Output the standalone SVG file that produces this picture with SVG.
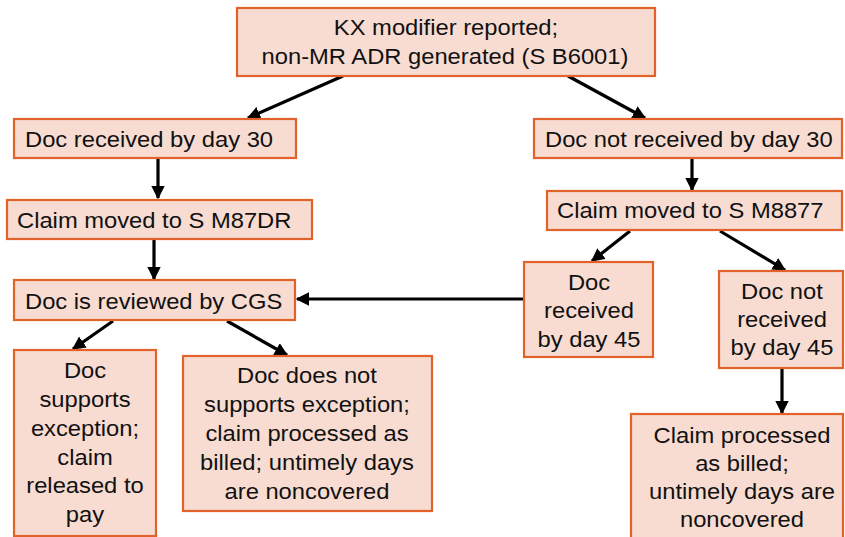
<svg xmlns="http://www.w3.org/2000/svg" width="845" height="537" viewBox="0 0 845 537">
<defs>
<style>
.box{fill:#F8DCD1;stroke:#E2622C;stroke-width:2.2}
.t{font-family:"Liberation Sans",Arial,sans-serif;font-size:22px;fill:#111;transform-box:fill-box;transform-origin:center;transform:scaleX(1.08)}
.l{transform-origin:left center}
.c{text-anchor:middle}
.e{stroke:#000;stroke-width:3.2;fill:none;marker-end:url(#ah)}
</style>
<marker id="ah" viewBox="0 0 10 10" refX="9" refY="5" markerWidth="4.2" markerHeight="4.2" orient="auto" markerUnits="strokeWidth">
<path d="M0,0 L10,5 L0,10 z" fill="#000"/>
</marker>
</defs>
<rect width="845" height="537" fill="#fff"/>
<g id="connectors">
<line class="e" x1="343" y1="76" x2="248" y2="118"/>
<line class="e" x1="568" y1="76" x2="645" y2="118"/>
<line class="e" x1="158" y1="158" x2="158" y2="198"/>
<line class="e" x1="154" y1="239" x2="154" y2="279"/>
<line class="e" x1="692" y1="158" x2="692" y2="190"/>
<line class="e" x1="630" y1="231" x2="592" y2="261"/>
<line class="e" x1="720" y1="231" x2="785" y2="270"/>
<line class="e" x1="524" y1="299" x2="297" y2="299"/>
<line class="e" x1="113" y1="321" x2="73" y2="349"/>
<line class="e" x1="227" y1="321" x2="287" y2="355"/>
<line class="e" x1="782" y1="368" x2="782" y2="413"/>
</g>
<g id="n_top">
<rect class="box" x="237" y="8" width="418" height="68"/>
<text class="t c" x="446" y="35">KX modifier reported;</text>
<text class="t c" x="445" y="64">non-MR ADR generated (S B6001)</text>
</g>
<g id="n_recv30">
<rect class="box" x="14" y="119" width="282" height="39"/>
<text class="t l" x="25" y="147">Doc received by day 30</text>
</g>
<g id="n_notrecv30">
<rect class="box" x="534" y="119" width="308" height="39"/>
<text class="t l" x="545" y="147">Doc not received by day 30</text>
</g>
<g id="n_m87dr">
<rect class="box" x="7" y="200" width="305" height="39"/>
<text class="t l" x="17" y="228">Claim moved to S M87DR</text>
</g>
<g id="n_m8877">
<rect class="box" x="547" y="191" width="295" height="39"/>
<text class="t l" x="557" y="218">Claim moved to S M8877</text>
</g>
<g id="n_reviewed">
<rect class="box" x="14" y="280" width="281" height="40"/>
<text class="t l" x="25" y="309">Doc is reviewed by CGS</text>
</g>
<g id="n_recv45">
<rect class="box" x="524" y="262" width="129" height="95"/>
<text class="t c" x="589" y="290">Doc</text>
<text class="t c" x="589" y="318">received</text>
<text class="t c" x="589" y="347">by day 45</text>
</g>
<g id="n_notrecv45">
<rect class="box" x="719" y="271" width="124" height="97"/>
<text class="t c" x="782" y="299">Doc not</text>
<text class="t c" x="782" y="327">received</text>
<text class="t c" x="782" y="355">by day 45</text>
</g>
<g id="n_supports">
<rect class="box" x="14" y="350" width="142" height="186"/>
<text class="t c" x="85" y="378">Doc</text>
<text class="t c" x="85" y="407">supports</text>
<text class="t c" x="85" y="436">exception;</text>
<text class="t c" x="85" y="465">claim</text>
<text class="t c" x="85" y="493">released to</text>
<text class="t c" x="85" y="522">pay</text>
</g>
<g id="n_notsupports">
<rect class="box" x="183" y="356" width="249" height="155"/>
<text class="t c" x="307" y="383">Doc does not</text>
<text class="t c" x="307" y="412">supports exception;</text>
<text class="t c" x="307" y="441">claim processed as</text>
<text class="t c" x="307" y="470">billed; untimely days</text>
<text class="t c" x="307" y="499">are noncovered</text>
</g>
<g id="n_processed">
<rect class="box" x="631" y="414" width="212" height="130"/>
<text class="t c" x="742" y="443">Claim processed</text>
<text class="t c" x="742" y="471">as billed;</text>
<text class="t c" x="742" y="499">untimely days are</text>
<text class="t c" x="742" y="527">noncovered</text>
</g>
</svg>
